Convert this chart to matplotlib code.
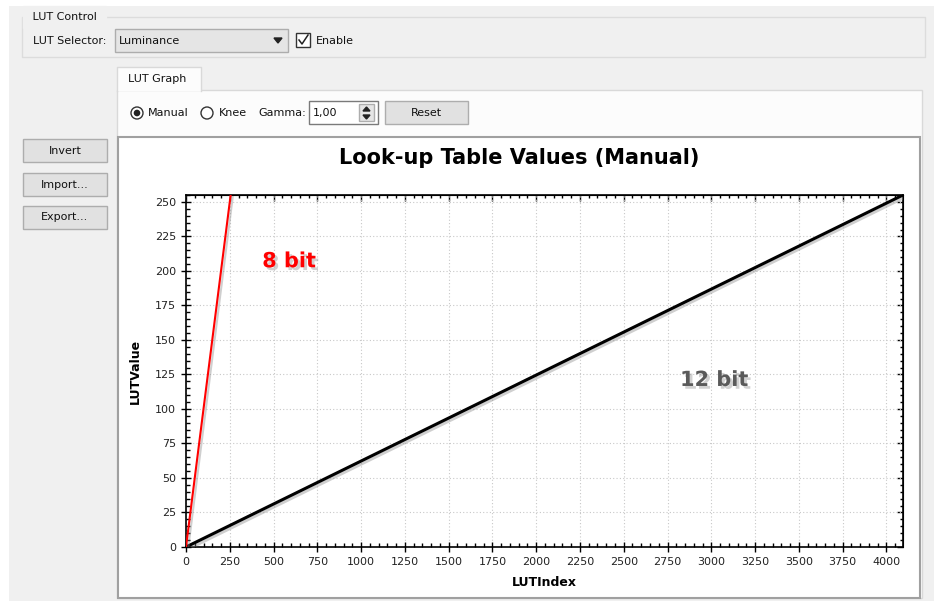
import matplotlib.pyplot as plt
import matplotlib.patheffects as pe
from matplotlib.patches import Rectangle, Circle, Polygon
from matplotlib.ticker import MultipleLocator

# data
lut_index_8bit = [0, 255]
lut_value_8bit = [0, 255]
lut_index_12bit = [0, 4095]
lut_value_12bit = [0, 255]

x_ticks = list(range(0, 4001, 250))
y_ticks = list(range(0, 251, 25))

W, H = 934, 601
plt.rcParams['font.family'] = ['DejaVu Sans']
fig = plt.figure(figsize=(W / 100, H / 100), dpi=100, facecolor='white')

# GUI background drawn in pixel coordinates
bg = fig.add_axes([0, 0, 1, 1])
bg.set_xlim(0, W)
bg.set_ylim(H, 0)
bg.axis('off')


def box(x, y, w, h, fc, ec, lw=1.0, z=1):
    bg.add_patch(Rectangle((x, y), w, h, facecolor=fc, edgecolor=ec, linewidth=lw, zorder=z))


def label(x, y, s, ha='left', size=8, **kw):
    bg.text(x, y, s, ha=ha, va='center', fontsize=size, color='#111111', zorder=5, **kw)


box(9, 6, W - 9, H - 6, '#f0f0f0', 'none', z=0)

# LUT Control group
box(22, 17, 903, 40, 'none', '#dcdcdc')
label(29, 17, ' LUT Control ', backgroundcolor='#f0f0f0')
label(33, 41, 'LUT Selector:')
box(115, 29, 173, 23, '#e5e5e5', '#adadad')
label(119, 41, 'Luminance')
bg.add_patch(Polygon([[274, 38], [282, 38], [278, 43]], closed=True, color='#222222', zorder=3))
box(296, 33, 14, 14, 'white', '#333333')
bg.plot([299, 302, 308], [40, 44, 35], color='#222222', lw=1.1, zorder=4)
label(316, 41, 'Enable')

# tab pane
box(117, 90, 805, 508, '#fcfcfc', '#d9d9d9')
box(117, 67, 84, 24, '#fcfcfc', 'none', z=2)
bg.plot([117, 117, 201, 201], [91, 67, 67, 91], color='#d9d9d9', lw=1.0, zorder=3)
label(128, 79, 'LUT Graph')

bg.add_patch(Circle((137, 113), 6, facecolor='white', edgecolor='#333333', lw=1.0, zorder=3))
bg.add_patch(Circle((137, 113), 3.3, facecolor='#222222', edgecolor='none', zorder=4))
label(148, 113, 'Manual')
bg.add_patch(Circle((207, 113), 6, facecolor='white', edgecolor='#333333', lw=1.0, zorder=3))
label(219, 113, 'Knee')
label(258, 113, 'Gamma:')
box(309, 101, 69, 23, 'white', '#7a7a7a')
label(313, 113, '1,00')
box(359, 104, 15, 17, '#e5e5e5', '#adadad', z=3)
bg.add_patch(Polygon([[363, 111], [370, 111], [366.5, 107]], closed=True, color='#222222', zorder=4))
bg.add_patch(Polygon([[363, 115], [370, 115], [366.5, 119]], closed=True, color='#222222', zorder=4))
box(385, 101, 83, 23, '#e1e1e1', '#adadad')
label(426, 113, 'Reset', ha='center')

# left buttons
for yb, txt in [(139, 'Invert'), (173, 'Import...'), (206, 'Export...')]:
    box(23, yb, 84, 23, '#e1e1e1', '#adadad')
    label(65, yb + 11.5, txt, ha='center')

# plot frame
box(118, 137, 802, 461, 'white', '#a0a0a0', lw=1.5)

# chart
left, right, top, bottom = 186, 903, 195, 547
ax = fig.add_axes([left / W, (H - bottom) / H, (right - left) / W, (bottom - top) / H])
ax.set_facecolor('white')
ax.set_xlim(0, 4095)
ax.set_ylim(0, 255)

shadow = [pe.SimpleLineShadow(offset=(1.5, -1.5), shadow_color='#888888', alpha=0.4), pe.Normal()]
ax.plot(lut_index_12bit, lut_value_12bit, color='black', lw=2.2, path_effects=shadow, zorder=4)
ax.plot(lut_index_8bit, lut_value_8bit, color='red', lw=1.5, path_effects=shadow, zorder=5)

txt_shadow = [pe.SimplePatchShadow(offset=(2, -2), shadow_rgbFace='#999999', alpha=0.45), pe.Normal()]
ax.text(589, 207, '8 bit', color='red', fontsize=15, fontweight='bold', ha='center', va='center',
        path_effects=txt_shadow)
ax.text(3017, 121, '12 bit', color='#5a5a5a', fontsize=15, fontweight='bold', ha='center', va='center',
        path_effects=txt_shadow)

ax.set_xticks(x_ticks)
ax.set_yticks(y_ticks)
ax.xaxis.set_minor_locator(MultipleLocator(50))
ax.yaxis.set_minor_locator(MultipleLocator(5))
ax.grid(True, which='major', linestyle=(0, (1, 2)), color='#c8c8c8', lw=0.8)
ax.tick_params(which='major', direction='inout', length=6.5, width=1, labelsize=8, labelcolor='#222222', pad=4)
ax.tick_params(which='minor', direction='in', length=3, width=1)
for s in ax.spines.values():
    s.set_linewidth(1.2)

sec_x = ax.secondary_xaxis('top')
sec_x.set_xticks(x_ticks)
sec_x.xaxis.set_minor_locator(MultipleLocator(50))
sec_x.tick_params(which='major', direction='in', length=4, width=1, labeltop=False)
sec_x.tick_params(which='minor', direction='in', length=2.5, width=1)
sec_y = ax.secondary_yaxis('right')
sec_y.set_yticks(y_ticks)
sec_y.yaxis.set_minor_locator(MultipleLocator(5))
sec_y.tick_params(which='major', direction='in', length=4, width=1, labelright=False)
sec_y.tick_params(which='minor', direction='in', length=2.5, width=1)

fig.text(519 / W, 1 - 158 / H, 'Look-up Table Values (Manual)', ha='center', va='center',
         fontsize=15, fontweight='bold', color='black')
fig.text(544 / W, 1 - 582 / H, 'LUTIndex', ha='center', va='center', fontsize=9, fontweight='bold')
fig.text(135 / W, 1 - 371 / H, 'LUTValue', ha='center', va='center', fontsize=9, fontweight='bold',
         rotation=90)

fig.savefig('out.png', dpi=100)
